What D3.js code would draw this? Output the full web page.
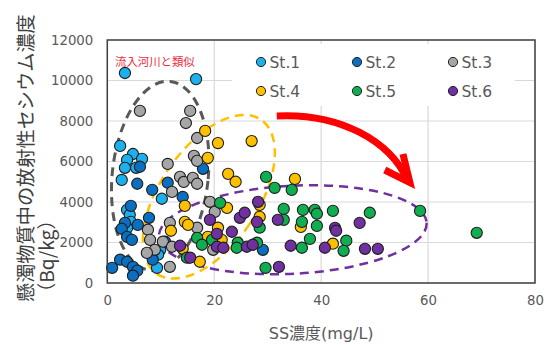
<!DOCTYPE html>
<html>
<head>
<meta charset="utf-8">
<script src="https://cdn.jsdelivr.net/npm/d3@7"></script>
<style>
  html, body { margin: 0; padding: 0; background: #fff; }
  svg { display: block; }
</style>
</head>
<body>
<svg id="chart" width="551" height="345"></svg>
<script>
// Suspended-solids concentration (mg/L) vs radiocesium in suspended matter (Bq/kg)
const seriesNames = ["St.1", "St.2", "St.3", "St.4", "St.5", "St.6"];
const seriesColors = ["#1cb0ec", "#0a6fc0", "#a6a6a6", "#ffc000", "#0fae50", "#7030a0"];

const st1 = [[3.3,10370],[16.6,10070],[2.4,6770],[4.8,6370],[3.7,6080],[6.5,6130],[3.3,5690],[5.4,5690],
  [2.7,5090],[10.2,4160],[3.7,3610],[4.2,3370],[4.4,3020],[3.7,2720],[9.9,1640],[9.5,1400],[9.3,750]];
const st2 = [[6.1,5740],[17.9,5640],[5.6,4900],[11.3,4950],[8.4,4600],[14.1,4250],[4.4,3810],[7.8,3220],
  [3.3,2970],[5.7,2870],[2.7,2680],[3.7,2280],[4.6,2130],[10.8,2040],[2.4,1150],[3.7,1050],[0.9,750],
  [4.8,800],[5.6,610],[4.8,360],[8.5,1150],[29.1,1640]];
const st3 = [[6.1,8500],[15.5,8500],[14.7,7900],[16.8,7160],[16.2,6280],[16.8,6030],[11.3,5880],[13.6,5240],
  [14.3,4990],[16.0,5190],[16.8,4900],[12.1,4500],[19.2,4010],[20.1,3510],[11.7,2970],[7.6,2630],[16.8,2730],
  [8.0,2130],[10.4,2040],[12.1,1790],[8.9,1640],[19.8,1640],[11.7,800],[7.4,1490]];
const st4 = [[18.3,7510],[20.7,6910],[27.0,7010],[18.8,6180],[22.6,5390],[24.0,5000],[35.1,5140],[14.5,3810],
  [22.4,3710],[28.5,3860],[14.5,3020],[15.1,2870],[28.5,3270],[11.9,2580],[20.7,2730],[18.8,2280],[21.4,2130],
  [36.2,2770],[14.1,1690],[42.2,1940],[17.3,1050]];
const st5 = [[29.7,5240],[31.3,4700],[34.5,4600],[21.1,3960],[33.0,3660],[36.6,3610],[38.8,3610],[39.2,3420],
  [42.2,3560],[49.1,3470],[58.5,3560],[69.1,2480],[33.0,3120],[36.4,3020],[39.2,2820],[28.5,2730],[37.9,2180],
  [44.7,2090],[44.2,1590],[36.4,1740],[29.6,750],[16.8,2230],[17.7,1890],[19.6,2130],[24.4,1990],[24.2,1740],
  [28.0,1990],[14.9,1250]];
const st6 = [[28.2,4010],[19.2,3120],[24.8,3220],[25.7,3470],[28.0,3020],[31.9,3120],[47.2,2970],[42.6,2720],
  [42.8,2580],[23.3,2530],[20.5,2430],[20.5,1790],[21.7,1740],[26.1,1790],[27.2,1890],[34.3,1840],[40.7,1740],
  [48.2,1690],[50.6,1690],[32.1,800],[13.6,1840],[15.5,1250]];
const seriesValues = [st1, st2, st3, st4, st5, st6];

const xTicks = [0, 20, 40, 60, 80];
const yTicks = [0, 2000, 4000, 6000, 8000, 10000, 12000];

const xTitle = "SS濃度(mg/L)";
const yTitleLines = ["懸濁物質中の放射性セシウム濃度", "（Bq/kg）"];
const noteText = "流入河川と類似";

// Group outlines, anchored at data coordinates
const groupRings = [
  { cx: 9.9,  cy: 5290, rx: 48, ry: 95, rot: 6,  color: "#595959", width: 3 },
  { cx: 19.0, cy: 4260, rx: 49, ry: 93, rot: 34, color: "#ffc000", width: 2.5 },
  { cx: 34.7, cy: 2630, rx: 134, ry: 44, rot: -3, color: "#7030a0", width: 2.5 }
];
// Trend arrow path (data coordinates)
const arrowPath = [[31.7, 8250], [43.5, 8400], [52.9, 7020], [56.2, 5050]];
const arrowHead = [[51.9, 5580], [56.6, 4960], [55.3, 6370]];

const margin = { left: 107.3, right: 16, top: 40, bottom: 62 };
const W = 551, H = 345;
const svg = d3.select("#chart");

const x = d3.scaleLinear().domain([0, 80]).range([margin.left, W - margin.right]);
const y = d3.scaleLinear().domain([0, 12000]).range([H - margin.bottom, margin.top]);

const latin = "'DejaVu Sans', 'Noto Sans CJK JP', sans-serif";
const cjk = "'Noto Sans CJK JP', sans-serif";

// gridlines
const grid = svg.append("g");
grid.selectAll("line.h").data(yTicks).join("line")
  .attr("x1", x(0)).attr("x2", x(80)).attr("y1", d => y(d)).attr("y2", d => y(d))
  .attr("stroke", "#d9d9d9").attr("stroke-width", 1.2);
grid.selectAll("line.v").data(xTicks).join("line")
  .attr("y1", y(0)).attr("y2", y(12000)).attr("x1", d => x(d)).attr("x2", d => x(d))
  .attr("stroke", "#d9d9d9").attr("stroke-width", 1.2);

// axes (labels only)
const yAxis = svg.append("g").attr("transform", `translate(${x(0)},0)`)
  .call(d3.axisLeft(y).tickValues(yTicks).tickSize(0).tickPadding(14).tickFormat(d3.format("d")));
const xAxis = svg.append("g").attr("transform", `translate(0,${y(0)})`)
  .call(d3.axisBottom(x).tickValues(xTicks).tickSize(0).tickPadding(13).tickFormat(d3.format("d")));
[xAxis, yAxis].forEach(g => {
  g.select(".domain").remove();
  g.selectAll("text").attr("fill", "#595959").style("font-family", latin).style("font-size", "13.3px");
});

// legend background
svg.append("rect").attr("x", 232).attr("y", 44).attr("width", 283).attr("height", 62).attr("fill", "#fff");

// group outlines
svg.append("g").selectAll("ellipse").data(groupRings).join("ellipse")
  .attr("cx", 0).attr("cy", 0).attr("rx", d => d.rx).attr("ry", d => d.ry)
  .attr("transform", d => `translate(${x(d.cx)},${y(d.cy)}) rotate(${d.rot})`)
  .attr("fill", "none").attr("stroke", d => d.color).attr("stroke-width", d => d.width)
  .attr("stroke-dasharray", "9,6");

// points
const pts = svg.append("g");
seriesValues.forEach((vals, i) => {
  pts.append("g").selectAll("circle").data(vals).join("circle")
    .attr("cx", d => x(d[0])).attr("cy", d => y(d[1])).attr("r", 5.6)
    .attr("fill", seriesColors[i]).attr("stroke", "#1e1e1e").attr("stroke-width", 1.1);
});

// plot frame
svg.append("rect").attr("x", x(0)).attr("y", y(12000)).attr("width", x(80) - x(0)).attr("height", y(0) - y(12000))
  .attr("fill", "none").attr("stroke", "#404040").attr("stroke-width", 1.5);

// arrow
const line = d3.line().x(d => x(d[0])).y(d => y(d[1]));
const ap = arrowPath.map(d => [x(d[0]), y(d[1])]);
svg.append("path")
  .attr("d", `M${ap[0]}C${ap[1]} ${ap[2]} ${ap[3]}`)
  .attr("fill", "none").attr("stroke", "#ff0000").attr("stroke-width", 7);
svg.append("path").attr("d", line(arrowHead))
  .attr("fill", "none").attr("stroke", "#ff0000").attr("stroke-width", 7)
  .attr("stroke-linejoin", "miter").attr("stroke-linecap", "butt");

// legend
const leg = svg.append("g");
seriesNames.forEach((name, i) => {
  const lx = 261 + (i % 3) * 96, ly = 62 + Math.floor(i / 3) * 29;
  leg.append("circle").attr("cx", lx).attr("cy", ly).attr("r", 4.6)
    .attr("fill", seriesColors[i]).attr("stroke", "#1e1e1e").attr("stroke-width", 1);
  leg.append("text").attr("x", lx + 8.5).attr("y", ly).attr("dy", "0.36em")
    .attr("fill", "#595959").style("font-family", latin).style("font-size", "15.5px").text(name);
});

// note
svg.append("text").attr("x", 115).attr("y", 62).attr("dy", "0.36em")
  .attr("fill", "#f02a3c").style("font-family", cjk).style("font-size", "11.4px").text(noteText);

// axis titles
svg.append("text").attr("x", (x(0) + x(80)) / 2).attr("y", 339).attr("text-anchor", "middle")
  .attr("fill", "#595959").style("font-family", latin).style("font-size", "16px").text(xTitle);

const yt = svg.append("text").attr("transform", "translate(0,302) rotate(-90)")
  .attr("fill", "#404040").style("font-family", cjk).style("font-size", "19.2px");
yt.append("tspan").attr("x", 0).attr("y", 33).text(yTitleLines[0]);
yt.append("tspan").attr("x", 0).attr("y", 54).text(yTitleLines[1]);
</script>
</body>
</html>
